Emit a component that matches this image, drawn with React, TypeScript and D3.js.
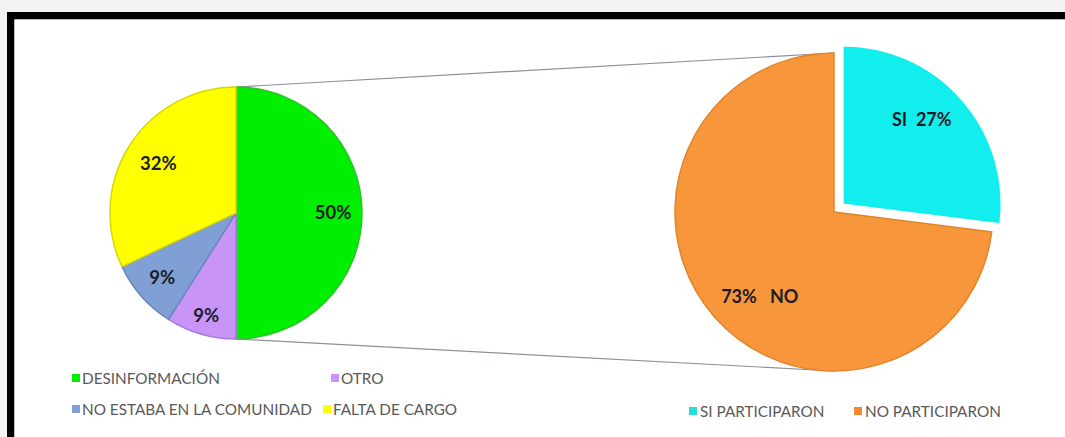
import React from 'react';
import * as d3 from 'd3';

// razones de no participar (pie izquierdo)
const leftLabels = ['DESINFORMACIÓN', 'OTRO', 'NO ESTABA EN LA COMUNIDAD', 'FALTA DE CARGO'];
const leftValues = [50, 9, 9, 32];
const leftColors = ['#00ee00', '#c894f7', '#809fd4', '#ffff00'];
const leftEdges = ['#2fc02f', '#a97ad9', '#6a88bd', '#d9d900'];

// participación (pie derecho)
const rightLabels = ['SI PARTICIPARON', 'NO PARTICIPARON'];
const rightValues = [27, 73];
const rightText = ['SI  27%', '73%   NO'];
const rightColors = ['#12eeee', '#f7963b'];
const rightEdges = ['#ffffff', '#e2842c'];
const rightKeys = ['#22dede', '#f08a2c'];

const W = 1065;
const H = 437;

export default function App() {
  const pie = d3.pie<number>().sort(null).value((d) => d);

  // left pie
  const lc = { x: 236, y: 213 };
  const lr = 126;
  const leftArcs = pie(leftValues);
  const leftArc = d3.arc<d3.PieArcDatum<number>>().innerRadius(0).outerRadius(lr);
  const leftLabelR = [0.77, 0.85, 0.78, 0.73];

  // right pie
  const rc = { x: 834, y: 212 };
  const rr = 159;
  const rightArcs = pie(rightValues);
  const rightArc = d3.arc<d3.PieArcDatum<number>>().innerRadius(0).outerRadius(rr);
  const explode = 11.5;

  const polar = (a: number, r: number) => [Math.sin(a) * r, -Math.cos(a) * r];

  const labelFont = 'Lato, "Open Sans", sans-serif';

  return (
    <svg width={W} height={H} style={{ position: 'fixed', left: 0, top: 0, display: 'block' }} fontFamily={labelFont}>
      <rect x={0} y={0} width={W} height={H} fill="#f3f3f3" />
      <path d={`M${W + 20},15.75 H10.75 V${H + 20}`} fill="none" stroke="#000" strokeWidth={7.5} />
      <rect x={14.5} y={19.5} width={W} height={H} fill="#ffffff" />

      {/* conectores */}
      <line x1={lc.x} y1={lc.y - lr} x2={rc.x} y2={rc.y - rr} stroke="#8c919b" strokeWidth={1.2} />
      <line x1={lc.x} y1={lc.y + lr} x2={rc.x} y2={rc.y + rr} stroke="#8c919b" strokeWidth={1.2} />

      <g transform={`translate(${lc.x},${lc.y})`}>
        {leftArcs.map((a, i) => (
          <path key={i} d={leftArc(a) || ''} fill={leftColors[i]} stroke={leftEdges[i]} strokeWidth={1.5} />
        ))}
        {leftArcs.map((a, i) => {
          const m = (a.startAngle + a.endAngle) / 2;
          const [x, y] = polar(m, lr * leftLabelR[i]);
          return (
            <text key={i} x={x} y={y} dy="0.35em" textAnchor="middle" fontWeight="bold" fontSize={18.5} fill="#1c1c28">
              {leftValues[i]}%
            </text>
          );
        })}
      </g>

      <g transform={`translate(${rc.x},${rc.y})`}>
        {rightArcs.map((a, i) => {
          const m = (a.startAngle + a.endAngle) / 2;
          const [ox, oy] = i === 0 ? polar(m, explode) : [0, 0];
          return (
            <g key={i} transform={`translate(${ox},${oy})`}>
              <path d={rightArc(a) || ''} fill={rightColors[i]} stroke={rightEdges[i]} strokeWidth={i === 0 ? 2 : 1.5} />
            </g>
          );
        })}
        {rightArcs.map((a, i) => {
          const m = (a.startAngle + a.endAngle) / 2;
          const [x, y] = i === 0 ? polar(m - 0.09, rr * 0.73 + explode) : polar(m - 0.13, rr * 0.71);
          return (
            <text key={i} x={x} y={y} dy="0.35em" textAnchor="middle" fontWeight="bold" fontSize={18} fill="#1c1c28" style={{ whiteSpace: 'pre' }}>
              {rightText[i]}
            </text>
          );
        })}
      </g>

      {/* leyendas */}
      <g fontSize={15.3} fill="#595959">
        {leftLabels.map((l, i) => {
          const col = i % 2;
          const row = Math.floor(i / 2);
          const x = col === 0 ? 72 : i === 1 ? 331 : 323;
          const y = 378 + row * 31;
          return (
            <g key={l}>
              <rect x={x} y={y - 4} width={8} height={8} fill={leftColors[i]} />
              <text x={x + 10} y={y} dy="0.36em">{l}</text>
            </g>
          );
        })}
        {rightLabels.map((l, i) => {
          const x = i === 0 ? 689 : 854;
          const y = 411;
          return (
            <g key={l}>
              <rect x={x} y={y - 4} width={8} height={8} fill={rightKeys[i]} />
              <text x={x + 11} y={y} dy="0.36em">{l}</text>
            </g>
          );
        })}
      </g>
    </svg>
  );
}
